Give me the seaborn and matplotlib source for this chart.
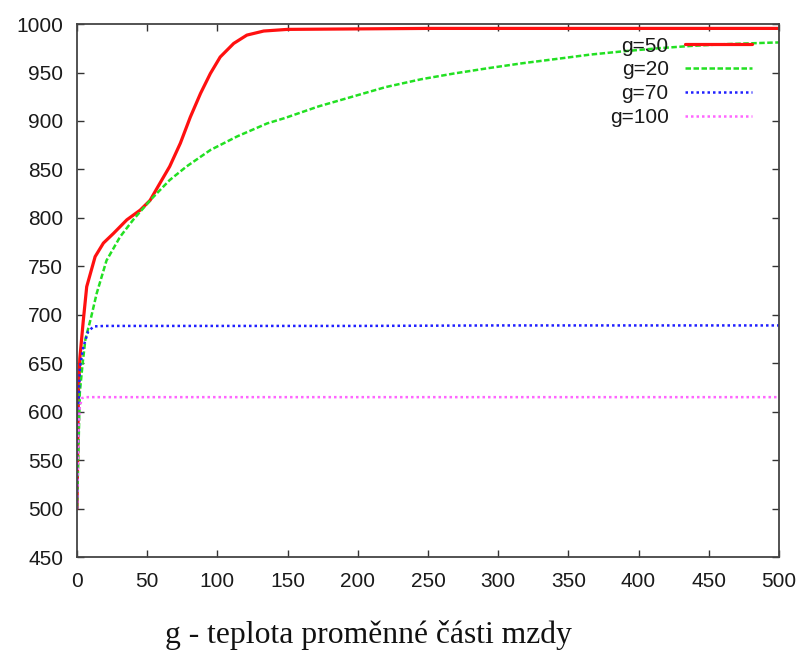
import numpy as np
import pandas as pd
import matplotlib
matplotlib.use("Agg")
import matplotlib.pyplot as plt
import seaborn as sns

# Simulated average wage over iterations for several temperatures g
x_g50 = [0, 1, 2, 4.5, 6.9, 12.9, 18.8, 26, 35.5, 45, 52, 59, 66, 73.6, 80.7, 88, 95,
         102, 111.6, 121, 133, 150, 200, 250, 300, 350, 400, 450, 500]
y_g50 = [500, 620, 655, 694.5, 729, 760, 774, 784, 798, 808, 818, 835.6, 853, 877, 904,
         928.5, 949, 966, 980, 988.6, 992.8, 994.5, 995, 995.5, 995.5, 995.5, 995.5, 995.5, 995.5]

x_g20 = [0, 2, 4, 6, 9.8, 14, 21, 30.7, 40, 52, 66, 78, 95, 114, 135.5, 148, 172, 196, 220,
         245, 268.6, 293, 317, 341.6, 365.7, 390, 414, 438, 462.6, 494, 500]
y_g20 = [500, 620, 650, 675, 696, 722, 756, 780.5, 798, 818, 839, 853, 870, 884, 897.5,
         903, 915, 925, 935, 943, 949, 954.5, 959.5, 964, 968.5, 972, 975, 977.5, 979.3, 980.8, 981]

x_g70 = [0, 1, 2, 4.5, 8, 12, 20, 100, 200, 300, 400, 500]
y_g70 = [500, 600, 645, 667, 683, 688, 688.5, 688.5, 688.5, 689, 689, 689]

x_g100 = [0, 1, 2, 3.5, 6, 100, 200, 300, 400, 500]
y_g100 = [500, 580, 605, 614, 615, 615, 615, 615, 615, 615]

labels = ["g=50", "g=20", "g=70", "g=100"]
colors = ["#ff1010", "#22e022", "#2020ff", "#ff66ff"]
dash_styles = [(None, None), (2.2, 1.0), (1.0, 1.2), (1.0, 1.2)]
widths = [2.3, 1.8, 1.8, 1.8]

xticks = list(range(0, 501, 50))
yticks = list(range(450, 1001, 50))

frames = []
for lab, xs, ys in zip(labels, [x_g50, x_g20, x_g70, x_g100],
                       [y_g50, y_g20, y_g70, y_g100]):
    frames.append(pd.DataFrame({"iter": xs, "wage": ys, "g": lab}))
df = pd.concat(frames, ignore_index=True)

sns.set_style("ticks")
plt.rcParams["font.family"] = ["Liberation Sans", "DejaVu Sans"]

fig = plt.figure(figsize=(8.04, 6.5), dpi=100)
ax = fig.add_axes([0.0958, 0.143, 0.873, 0.820])

for lab, col, dsh, lw in zip(labels, colors, dash_styles, widths):
    sub = df[df["g"] == lab]
    sns.lineplot(x="iter", y="wage", data=sub, color=col, lw=lw, label=lab,
                 ax=ax, estimator=None, sort=False)
    ln = ax.get_lines()[-1]
    if dsh[0] is not None:
        ln.set_dashes(dsh)

ax.set_xlim(0, 500)
ax.set_ylim(450, 1000)
ax.set_xticks(xticks)
ax.set_yticks(yticks)
ax.set_xlabel("")
ax.set_ylabel("")

for side in ["left", "right", "top", "bottom"]:
    ax.spines[side].set_visible(True)
    ax.spines[side].set_color("#444444")
    ax.spines[side].set_linewidth(1.3)

ax.tick_params(axis="both", direction="in", length=5, width=1.0, color="#333333",
               top=True, right=True, labelsize=15, labelcolor="#1a1a1a")
ax.tick_params(axis="y", pad=10)
ax.tick_params(axis="x", pad=11)

leg = ax.legend(loc="upper right", bbox_to_anchor=(752 / 804, 1 - 36.5 / 650),
                bbox_transform=fig.transFigure, frameon=False, markerfirst=False,
                fontsize=15, handlelength=3.2, handletextpad=0.8, labelspacing=0.23,
                borderpad=0, borderaxespad=0)
for txt in leg.get_texts():
    txt.set_color("#1a1a1a")

fig.text(165 / 804, 1 - 643 / 650, "g - teplota proměnné části mzdy",
         ha="left", va="baseline", fontsize=22.8,
         family=["Liberation Serif", "DejaVu Serif"], color="#111111")

fig.savefig("out.png", dpi=100, facecolor="white")
